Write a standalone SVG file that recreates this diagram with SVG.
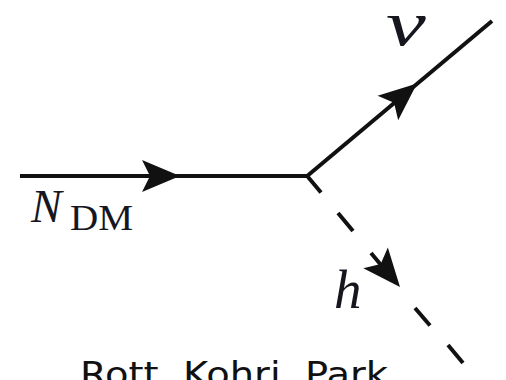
<svg xmlns="http://www.w3.org/2000/svg" xmlns:xlink="http://www.w3.org/1999/xlink" width="506" height="380" viewBox="0 0 506 380">
  <style>
    .line { stroke: #111; stroke-width: 4; fill: none; stroke-linecap: butt; }
    .head { fill: #111; stroke: none; }
    .math { font-family: "Liberation Serif", "Times New Roman", serif; fill: #16161f; }
    .it { font-style: italic; }
    .caption { font-family: "DejaVu Sans", "Liberation Sans", sans-serif; fill: #111; }
  </style>
  <defs>
    <path id="ah" d="M0,0 L-38,-16 L-30,0 L-38,16 Z"/>
  </defs>
  <rect width="506" height="380" fill="#fff"/>
  <g id="connectors">
    <line class="line" x1="20" y1="176" x2="308" y2="176"/>
    <line class="line" x1="306" y1="177" x2="492" y2="21"/>
    <path class="line" d="M308,177 L321,192.5 M338,213 L353,231 M371,253 L381,265 M415,308 L430,325.5 M448,345 L463,363"/>
    <use href="#ah" xlink:href="#ah" class="head" transform="translate(180,176)"/>
    <use href="#ah" xlink:href="#ah" class="head" transform="translate(417,83.5) rotate(-40)"/>
    <use href="#ah" xlink:href="#ah" class="head" transform="translate(400,287) rotate(50)"/>
  </g>
  <g id="label-ndm">
    <text class="math it" x="31" y="222" font-size="46">N</text>
    <text class="math" x="70" y="230" font-size="35" textLength="63" lengthAdjust="spacingAndGlyphs">DM</text>
  </g>
  <g id="label-nu">
    <text class="math it" transform="translate(386,45) scale(1.4,1)" x="0" y="0" font-size="64">ν</text>
  </g>
  <g id="label-h">
    <text class="math it" x="334" y="308" font-size="55">h</text>
  </g>
  <g id="caption">
    <text class="caption" x="80" y="386" font-size="33" textLength="308" lengthAdjust="spacingAndGlyphs">Rott, Kohri, Park</text>
  </g>
</svg>
